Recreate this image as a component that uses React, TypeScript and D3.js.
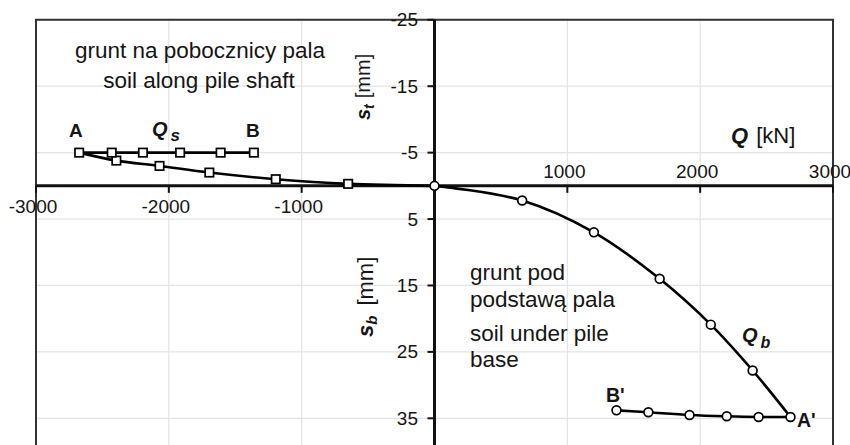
import React from "react";
import * as d3 from "d3";

// Q_s: soil along pile shaft (squares)
const qsLoadQ = [0, -650, -1195, -1695, -2070, -2395, -2675];
const qsLoadS = [0, -0.3, -1.0, -2.0, -3.0, -3.8, -5.0];
const qsUnloadQ = [-2675, -2430, -2195, -1915, -1610, -1360];
const qsUnloadS = [-5.0, -5.0, -5.0, -5.0, -5.0, -5.0];

// Q_b: soil under pile base (circles)
const qbLoadQ = [0, 660, 1200, 1695, 2080, 2395, 2680];
const qbLoadS = [0, 2.2, 7.0, 14.0, 20.9, 27.8, 34.8];
const qbUnloadQ = [2680, 2440, 2200, 1920, 1610, 1370];
const qbUnloadS = [34.8, 34.8, 34.7, 34.5, 34.1, 33.8];

const xTicks = [-3000, -2000, -1000, 1000, 2000, 3000];
const yTicks = [-25, -15, -5, 5, 15, 25, 35];
const xGrid = [-2000, -1000, 1000, 2000];

const W = 850;
const H = 445;
const FONT = "'Liberation Sans', Arial, Helvetica, sans-serif";
const TXT = "#151515";

export default function App() {
  const x = d3.scaleLinear().domain([-3000, 3000]).range([36, 833]);
  const y = d3.scaleLinear().domain([-25, 35]).range([19.8, 418.3]);
  const x0 = x(0);
  const y0 = y(0);

  const line = d3
    .line<[number, number]>()
    .x((d) => x(d[0]))
    .y((d) => y(d[1]))
    .curve(d3.curveCatmullRom.alpha(0.5));

  const zip = (a: number[], b: number[]) => a.map((v, i) => [v, b[i]] as [number, number]);
  const qsLoad = zip(qsLoadQ, qsLoadS);
  const qsUnload = zip(qsUnloadQ, qsUnloadS);
  const qbLoad = zip(qbLoadQ, qbLoadS);
  const qbUnload = zip(qbUnloadQ, qbUnloadS);

  const sqPts = [...qsLoad.slice(1), ...qsUnload.slice(1)];
  const cPts = [...qbLoad, ...qbUnload.slice(1)];

  const bottom = H + 10;

  return (
    <svg
      width={W}
      height={H}
      style={{ position: "absolute", left: 0, top: 0, background: "#fff" }}
      fontFamily={FONT}
    >
      <rect x={0} y={0} width={W} height={H} fill="#fff" />
      {/* grid */}
      {xGrid.map((t) => (
        <line key={"gx" + t} x1={x(t)} x2={x(t)} y1={y(-25)} y2={bottom} stroke="#e3e3e3" strokeWidth={1.2} />
      ))}
      {yTicks.map((t) => (
        <line key={"gy" + t} x1={x(-3000)} x2={x(3000)} y1={y(t)} y2={y(t)} stroke="#e3e3e3" strokeWidth={1.2} />
      ))}
      {/* frame */}
      <path
        d={`M${x(-3000)},${bottom}V${y(-25)}H${x(3000)}V${bottom}`}
        fill="none"
        stroke="#333"
        strokeWidth={2}
      />
      {/* axes */}
      <line x1={x(-3000)} x2={x(3000)} y1={y0} y2={y0} stroke="#111" strokeWidth={3} />
      <line x1={x0} x2={x0} y1={y(-25)} y2={bottom} stroke="#111" strokeWidth={3} />
      {xTicks.map((t) => (
        <line key={"tx" + t} x1={x(t)} x2={x(t)} y1={y0} y2={y0 + 7} stroke="#111" strokeWidth={2} />
      ))}
      {yTicks.map((t) => (
        <line key={"ty" + t} x1={x0 - 7} x2={x0} y1={y(t)} y2={y(t)} stroke="#111" strokeWidth={2} />
      ))}
      {/* tick labels */}
      {xTicks.map((t) => (
        <text
          key={"lx" + t}
          x={x(t) - 3}
          y={t < 0 ? y0 + 27 : y0 - 8}
          textAnchor="middle"
          fontSize={19}
          fill={TXT}
        >
          {t}
        </text>
      ))}
      {yTicks.map((t) => (
        <text
          key={"ly" + t}
          x={418}
          y={y(t) + 6.5}
          textAnchor="end"
          fontSize={19}
          fill={TXT}
        >
          {t}
        </text>
      ))}
      {/* series lines */}
      <path d={line(qsLoad) || ""} fill="none" stroke="#000" strokeWidth={2.6} />
      <path d={line(qsUnload) || ""} fill="none" stroke="#000" strokeWidth={2.6} />
      <path d={line(qbLoad) || ""} fill="none" stroke="#000" strokeWidth={2.6} />
      <path d={line(qbUnload) || ""} fill="none" stroke="#000" strokeWidth={2.6} />
      {sqPts.map((p, i) => (
        <rect
          key={"sq" + i}
          x={x(p[0]) - 4.2}
          y={y(p[1]) - 4.2}
          width={8.4}
          height={8.4}
          fill="#fff"
          stroke="#000"
          strokeWidth={1.7}
        />
      ))}
      {cPts.map((p, i) => (
        <circle key={"c" + i} cx={x(p[0])} cy={y(p[1])} r={4.4} fill="#fff" stroke="#000" strokeWidth={1.7} />
      ))}
      {/* annotations */}
      <text x={200} y={58} textAnchor="middle" fontSize={22.5} fill={TXT}>
        grunt na pobocznicy pala
      </text>
      <text x={199} y={88} textAnchor="middle" fontSize={22.5} fill={TXT}>
        soil along pile shaft
      </text>
      <text x={69} y={137} fontSize={19} fontWeight="bold" fill={TXT}>A</text>
      <text x={246} y={137} fontSize={19} fontWeight="bold" fill={TXT}>B</text>
      <text x={152} y={136} fontSize={20} fontWeight="bold" fontStyle="italic" fill={TXT}>
        Q
        <tspan dx={3} dy={5} fontSize={17}>s</tspan>
      </text>
      <text x={731} y={143} fontSize={22} fill={TXT}>
        <tspan fontWeight="bold" fontStyle="italic">Q</tspan>
        <tspan dx={8}>[kN]</tspan>
      </text>
      <text transform="translate(370,120) rotate(-90)" fontSize={20} fill={TXT}>
        <tspan fontWeight="bold" fontStyle="italic">s</tspan>
        <tspan fontWeight="bold" fontStyle="italic" fontSize={14} dy={4}>t</tspan>
        <tspan dy={-4} dx={6}>[mm]</tspan>
      </text>
      <text transform="translate(373,337) rotate(-90)" fontSize={22} fill={TXT}>
        <tspan fontWeight="bold" fontStyle="italic">s</tspan>
        <tspan fontWeight="bold" fontStyle="italic" fontSize={15} dy={4}>b</tspan>
        <tspan dy={-4} dx={10}>[mm]</tspan>
      </text>
      <text x={470} y={280} fontSize={22.5} fill={TXT}>grunt pod</text>
      <text x={470} y={307} fontSize={22.5} fill={TXT}>podstawą pala</text>
      <text x={470} y={341} fontSize={22.5} fill={TXT}>soil under pile</text>
      <text x={470} y={367} fontSize={22.5} fill={TXT}>base</text>
      <text x={742} y={342} fontSize={20} fontWeight="bold" fontStyle="italic" fill={TXT}>
        Q
        <tspan dx={3} dy={6} fontSize={16}>b</tspan>
      </text>
      <text x={606} y={401.5} fontSize={19.5} fontWeight="bold" fill={TXT}>B'</text>
      <text x={797} y={427} fontSize={19.5} fontWeight="bold" fill={TXT}>A'</text>
    </svg>
  );
}
